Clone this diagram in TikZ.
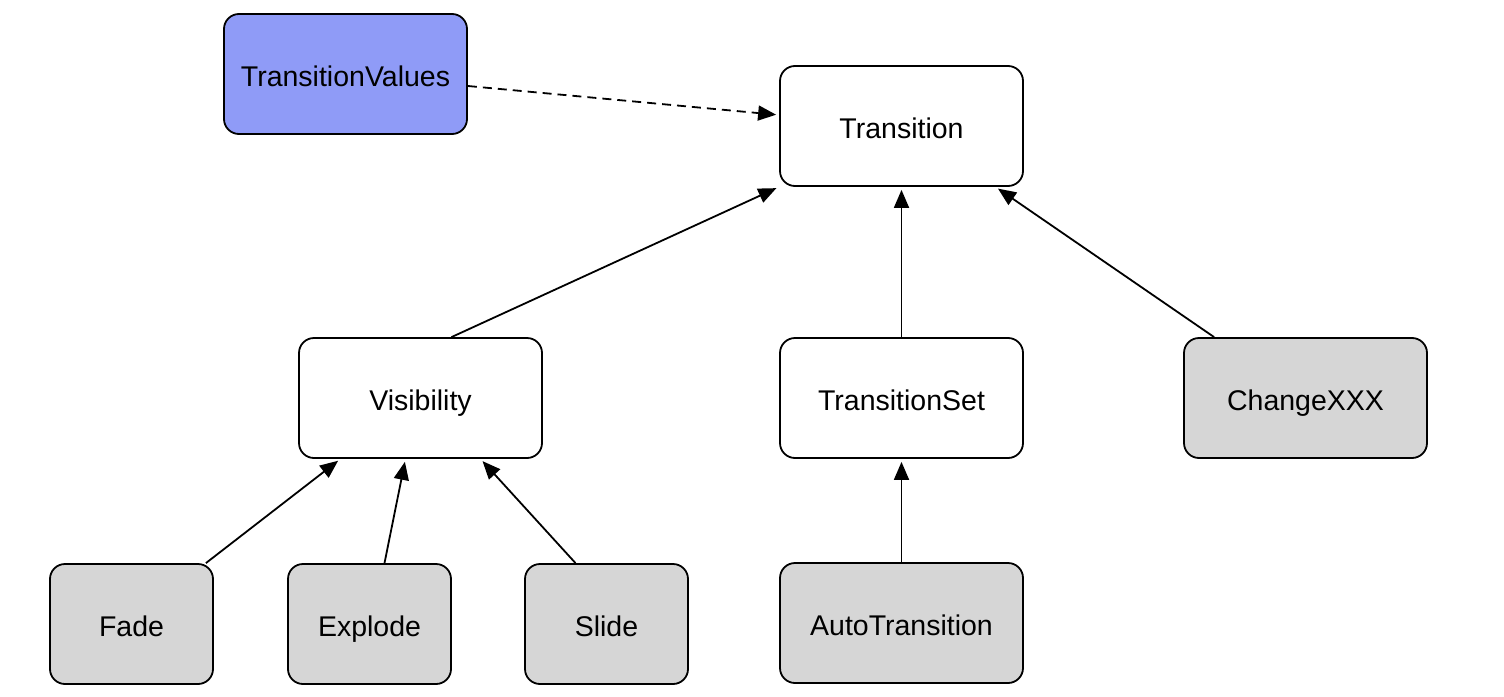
\documentclass[tikz,border=0pt]{standalone}
\usepackage{fontspec}
\setmainfont{Liberation Sans}
\usetikzlibrary{positioning, arrows.meta}

\definecolor{leafgray}{HTML}{D6D6D6}
\definecolor{valblue}{HTML}{8F9BF7}
\tikzset{
  cls/.style={draw, line width=1.8pt, rounded corners=15pt, minimum width=243pt,
    minimum height=120pt, font=\fontsize{28.5}{34}\selectfont, fill=white,
    text height=26pt, text depth=2pt},
  small/.style={cls, minimum width=163pt},
  leaf/.style={fill=leafgray},
  inherit/.style={-{Triangle[length=18pt,width=15pt]}, line width=1.8pt, shorten >=3pt},
  uses/.style={inherit, dash pattern=on 9pt off 6pt}
}

\begin{document}
\begin{tikzpicture}[x=1pt, y=-1pt, on grid]
  \useasboundingbox[fill=white] (0,0) rectangle (1504,696);

  \node[cls] (trans) at (901.5,126) {Transition};
  \node[cls] (tset) [below=272pt of trans] {TransitionSet};
  \node[cls] (vis) [left=481pt of tset] {Visibility};
  \node[cls, leaf] (chg) [right=404pt of tset] {ChangeXXX};
  \node[cls, fill=valblue] (tvals) [above left=52pt and 556pt of trans] {TransitionValues};
  \node[cls, leaf] (auto) [below=225pt of tset] {AutoTransition};
  \node[small, leaf] (explode) [below left=226pt and 51pt of vis] {Explode};
  \node[small, leaf] (fade) [left=238pt of explode] {Fade};
  \node[small, leaf] (slide) [right=237pt of explode] {Slide};

  \draw[uses] ([yshift=-12pt]tvals.east) -- ([yshift=11pt]trans.west);
  \draw[inherit] ([xshift=31pt]vis.north) -- (trans.south west);
  \draw[inherit] (tset.north) -- (trans.south);
  \draw[inherit] ([xshift=31pt]chg.north west) -- ([xshift=94pt]trans.south);
  \draw[inherit] ([xshift=-8pt]fade.north east) -- ([xshift=-80pt]vis.south);
  \draw[inherit] ([xshift=15pt]explode.north) -- ([xshift=-15pt]vis.south);
  \draw[inherit] ([xshift=-31pt]slide.north) -- ([xshift=60pt]vis.south);
  \draw[inherit] (auto.north) -- (tset.south);
\end{tikzpicture}
\end{document}
